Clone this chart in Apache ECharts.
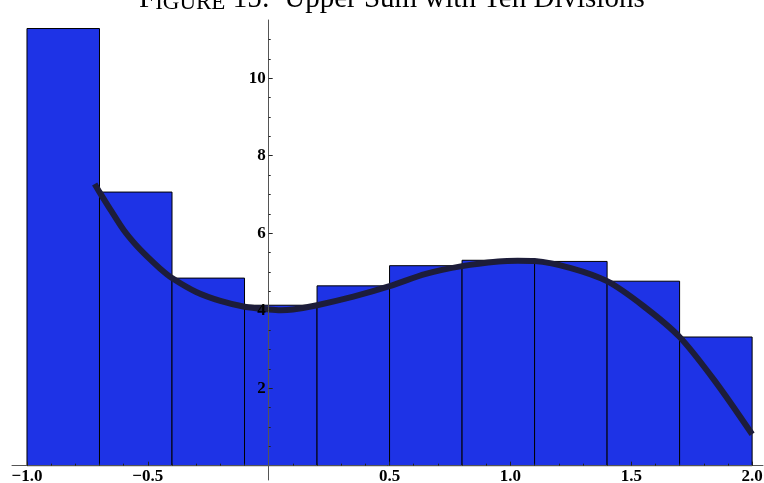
<!DOCTYPE html>
<html>
<head>
<meta charset="utf-8">
<script src="https://cdn.jsdelivr.net/npm/echarts@6/dist/echarts.min.js"></script>
<style>
  html, body { margin: 0; padding: 0; background: #fff; }
  #chart { width: 764px; height: 483px; }
</style>
</head>
<body>
<div id="chart"></div>
<script>
// Partition of [-1, 2] into ten subintervals, and the upper-sum rectangle heights
const barEdges = [-1.0, -0.7, -0.4, -0.1, 0.2, 0.5, 0.8, 1.1, 1.4, 1.7, 2.0];
const barHeights = [11.28, 7.06, 4.84, 4.14, 4.64, 5.16, 5.30, 5.27, 4.76, 3.32];

// Sampled points of the curve drawn over the rectangles
const curveX = [-0.72, -0.7, -0.65, -0.6, -0.55, -0.5, -0.45, -0.4, -0.3, -0.2, -0.1, 0.0, 0.05, 0.1, 0.2, 0.35, 0.5, 0.65, 0.8, 0.95, 1.03, 1.1, 1.25, 1.4, 1.55, 1.7, 1.85, 2.0];
const curveY = [7.27, 7.06, 6.56, 6.08, 5.70, 5.38, 5.09, 4.84, 4.48, 4.25, 4.10, 4.03, 4.01, 4.03, 4.14, 4.36, 4.63, 4.95, 5.15, 5.27, 5.29, 5.28, 5.10, 4.76, 4.12, 3.32, 2.15, 0.81];

// Tick positions
const xMajorTicks = [-1.0, -0.5, 0.5, 1.0, 1.5, 2.0];
const xMinorTicks = [-1.0, -0.9, -0.8, -0.7, -0.6, -0.4, -0.3, -0.2, -0.1, 0.1, 0.2, 0.3, 0.4, 0.6, 0.7, 0.8, 0.9, 1.1, 1.2, 1.3, 1.4, 1.6, 1.7, 1.8, 1.9];
const yMajorTicks = [2, 4, 6, 8, 10];
const yMinorTicks = [0.5, 1, 1.5, 2.5, 3, 3.5, 4.5, 5, 5.5, 6.5, 7, 7.5, 8.5, 9, 9.5, 10.5, 11];

// Axis ranges
const X_MIN = -1.062, X_MAX = 2.045, Y_MIN = -0.37, Y_MAX = 11.5;

// Plot frame in pixels (the y axis runs a little below the x axis line)
const W = 764, H = 483;
const FRAME = { left: 12, right: 1, top: 20, bottom: 3 };
const frameW = W - FRAME.left - FRAME.right;
const frameH = H - FRAME.top - FRAME.bottom;
// pixel position of x = 0 and y = 0 inside the frame, from the axis ranges
const zeroX = FRAME.left + frameW * (0 - X_MIN) / (X_MAX - X_MIN);
const zeroYFromBottom = FRAME.bottom + frameH * (0 - Y_MIN) / (Y_MAX - Y_MIN);

const BAR_FILL = '#1e33e6';
const CURVE_COLOR = '#1d1d3a';
const AXIS_COLOR = '#555';
const TICK_COLOR = '#222';
const labelFont = { fontFamily: 'Liberation Serif', fontWeight: 'bold', fontSize: 17, color: '#000' };

const fmtX = v => (v < 0 ? '\u2212' : '') + Math.abs(v).toFixed(1);

const rects = barHeights.map((h, i) => [barEdges[i], barEdges[i + 1], h]);
const curve = curveX.map((x, i) => [x, curveY[i]]);

const chart = echarts.init(document.getElementById('chart'), null, { renderer: 'canvas' });

const hiddenAxis = { show: false };

chart.setOption({
  animation: false,
  backgroundColor: '#fff',
  title: {
    text: 'F{sc|IGURE} 15:  Upper Sum with Ten Divisions',
    left: 134,
    top: -20,
    textStyle: {
      fontFamily: 'Liberation Serif',
      fontWeight: 'normal',
      fontSize: 29,
      lineHeight: 29,
      color: '#000',
      rich: {
        sc: { fontFamily: 'Liberation Serif', fontSize: 23, lineHeight: 29, color: '#000', verticalAlign: 'bottom' }
      }
    }
  },
  grid: [
    // data area: bottom edge is the x axis (y = 0)
    { left: FRAME.left, right: FRAME.right, top: FRAME.top, bottom: zeroYFromBottom, outerBoundsMode: 'none', containLabel: false },
    // thin strip whose left edge carries the y axis at x = 0
    { left: zeroX, width: 1, top: FRAME.top, bottom: FRAME.bottom, outerBoundsMode: 'none', containLabel: false }
  ],
  xAxis: [
    {
      gridIndex: 0, type: 'value', min: X_MIN, max: X_MAX, z: 10, position: 'bottom',
      axisLine: { show: true, onZero: false, lineStyle: { color: AXIS_COLOR, width: 1 } },
      axisTick: { show: true, inside: true, length: 4, customValues: xMajorTicks, lineStyle: { color: TICK_COLOR } },
      axisLabel: Object.assign({ show: true, margin: 2, customValues: xMajorTicks, formatter: fmtX }, labelFont),
      splitLine: { show: false }
    },
    {
      gridIndex: 0, type: 'value', min: X_MIN, max: X_MAX, z: 10, position: 'bottom',
      axisLine: { show: false, onZero: false },
      axisTick: { show: true, inside: true, length: 2, customValues: xMinorTicks, lineStyle: { color: TICK_COLOR } },
      axisLabel: { show: false },
      splitLine: { show: false }
    },
    Object.assign({ gridIndex: 1, type: 'value', min: 0, max: 1 }, hiddenAxis)
  ],
  yAxis: [
    Object.assign({ gridIndex: 0, type: 'value', min: 0, max: Y_MAX }, hiddenAxis),
    {
      gridIndex: 1, type: 'value', min: Y_MIN, max: Y_MAX, z: 10, position: 'left',
      axisLine: { show: true, onZero: false, lineStyle: { color: AXIS_COLOR, width: 1 } },
      axisTick: { show: true, inside: true, length: 4, customValues: yMajorTicks, lineStyle: { color: TICK_COLOR } },
      axisLabel: Object.assign({ show: true, margin: 3, customValues: yMajorTicks }, labelFont),
      splitLine: { show: false }
    },
    {
      gridIndex: 1, type: 'value', min: Y_MIN, max: Y_MAX, z: 10, position: 'left',
      axisLine: { show: false, onZero: false },
      axisTick: { show: true, inside: true, length: 2, customValues: yMinorTicks, lineStyle: { color: TICK_COLOR } },
      axisLabel: { show: false },
      splitLine: { show: false }
    }
  ],
  series: [
    {
      type: 'custom',
      z: 1,
      xAxisIndex: 0,
      yAxisIndex: 0,
      data: rects,
      encode: { x: [0, 1], y: 2 },
      renderItem: function (params, api) {
        const x0 = api.value(0), x1 = api.value(1), h = api.value(2);
        const pTop = api.coord([x0, h]);
        const pBot = api.coord([x1, 0]);
        return {
          type: 'rect',
          shape: { x: pTop[0], y: pTop[1], width: pBot[0] - pTop[0], height: pBot[1] - pTop[1] },
          style: { fill: BAR_FILL, stroke: '#000', lineWidth: 1 }
        };
      }
    },
    {
      type: 'line',
      z: 5,
      xAxisIndex: 0,
      yAxisIndex: 0,
      data: curve,
      smooth: 0.3,
      symbol: 'none',
      clip: false,
      lineStyle: { color: CURVE_COLOR, width: 6, cap: 'butt' }
    }
  ]
});
</script>
</body>
</html>
